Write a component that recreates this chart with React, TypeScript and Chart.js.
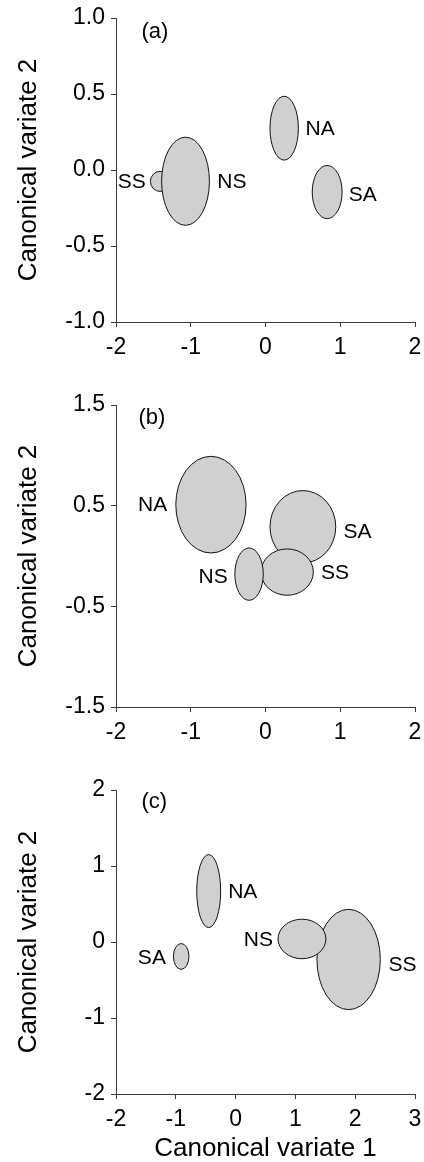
import React, { useEffect, useRef } from "react";
import { Chart, registerables } from "chart.js";

Chart.register(...registerables);

// ---------- Panel (a) ----------
const groupsA = ["SS", "NS", "NA", "SA"];
const cxA = [-1.41, -1.07, 0.25, 0.825];
const cyA = [-0.075, -0.074, 0.275, -0.145];
const rxA = [0.13, 0.32, 0.19, 0.2];
const ryA = [0.066, 0.29, 0.21, 0.175];
const labelXA = [-1.79, -0.45, 0.73, 1.3];
const labelYA = [-0.08, -0.08, 0.27, -0.167];
const xTicksA = [-2, -1, 0, 1, 2];
const xTickLabelsA = ["-2", "-1", "0", "1", "2"];
const yTicksA = [-1, -0.5, 0, 0.5, 1];
const yTickLabelsA = ["-1.0", "-0.5", "0.0", "0.5", "1.0"];

// ---------- Panel (b) ----------
const groupsB = ["NA", "SA", "SS", "NS"];
const cxB = [-0.73, 0.5, 0.29, -0.22];
const cyB = [0.51, 0.29, -0.16, -0.18];
const rxB = [0.47, 0.44, 0.35, 0.19];
const ryB = [0.48, 0.36, 0.23, 0.26];
const labelXB = [-1.51, 1.23, 0.93, -0.7];
const labelYB = [0.5, 0.24, -0.17, -0.21];
const xTicksB = [-2, -1, 0, 1, 2];
const xTickLabelsB = ["-2", "-1", "0", "1", "2"];
const yTicksB = [-1.5, -0.5, 0.5, 1.5];
const yTickLabelsB = ["-1.5", "-0.5", "0.5", "1.5"];

// ---------- Panel (c) ----------
const groupsC = ["NA", "SA", "SS", "NS"];
const cxC = [-0.45, -0.91, 1.89, 1.11];
const cyC = [0.67, -0.19, -0.23, 0.04];
const rxC = [0.2, 0.13, 0.53, 0.4];
const ryC = [0.48, 0.17, 0.66, 0.26];
const labelXC = [0.12, -1.4, 2.79, 0.38];
const labelYC = [0.66, -0.21, -0.31, 0.03];
const xTicksC = [-2, -1, 0, 1, 2, 3];
const xTickLabelsC = ["-2", "-1", "0", "1", "2", "3"];
const yTicksC = [-2, -1, 0, 1, 2];
const yTickLabelsC = ["-2", "-1", "0", "1", "2"];

const FONT = "'Liberation Sans', Arial, Helvetica, sans-serif";
const AXIS_COLOR = "#3a3a3a";
const FILL = "#d0d0d0";
const TEXT = "#000";

type PanelCfg = {
  top: number;
  height: number;
  plotTop: number;
  plotBottom: number;
  letter: string;
  letterX: number;
  letterY: number;
  groups: string[];
  cx: number[];
  cy: number[];
  rx: number[];
  ry: number[];
  lx: number[];
  ly: number[];
  xTicks: number[];
  xTickLabels: string[];
  yTicks: number[];
  yTickLabels: string[];
  xTitle?: string;
};

const ellipsePlugin = {
  id: "ellipses",
  afterDatasetsDraw(chart: any, _args: any, opts: any) {
    const cfg: PanelCfg = opts.cfg;
    const xs = chart.scales.x;
    const ys = chart.scales.y;
    const ctx = chart.ctx;
    ctx.save();
    for (let i = 0; i < cfg.cx.length; i++) {
      const px = xs.getPixelForValue(cfg.cx[i]);
      const py = ys.getPixelForValue(cfg.cy[i]);
      const rpx = Math.abs(xs.getPixelForValue(cfg.cx[i] + cfg.rx[i]) - px);
      const rpy = Math.abs(ys.getPixelForValue(cfg.cy[i] + cfg.ry[i]) - py);
      ctx.beginPath();
      ctx.ellipse(px, py, rpx, rpy, 0, 0, Math.PI * 2);
      ctx.fillStyle = FILL;
      ctx.fill();
      ctx.lineWidth = 1;
      ctx.strokeStyle = "#111";
      ctx.stroke();
    }
    ctx.fillStyle = TEXT;
    ctx.font = `21px ${FONT}`;
    ctx.textAlign = "center";
    ctx.textBaseline = "middle";
    for (let i = 0; i < cfg.groups.length; i++) {
      ctx.fillText(
        cfg.groups[i],
        xs.getPixelForValue(cfg.lx[i]),
        ys.getPixelForValue(cfg.ly[i])
      );
    }
    ctx.font = `22px ${FONT}`;
    ctx.fillText(
      cfg.letter,
      xs.getPixelForValue(cfg.letterX),
      ys.getPixelForValue(cfg.letterY)
    );
    ctx.restore();
  },
};

function Panel({ cfg }: { cfg: PanelCfg }) {
  const ref = useRef<HTMLCanvasElement | null>(null);
  useEffect(() => {
    if (!ref.current) return;
    const xMin = cfg.xTicks[0];
    const xMax = cfg.xTicks[cfg.xTicks.length - 1];
    const yMin = cfg.yTicks[0];
    const yMax = cfg.yTicks[cfg.yTicks.length - 1];
    const xAxisH = cfg.height - cfg.plotBottom;
    const chart = new Chart(ref.current, {
      type: "scatter",
      data: {
        datasets: [
          {
            data: cfg.cx.map((x, i) => ({ x, y: cfg.cy[i] })),
            pointRadius: 0,
            showLine: false,
          },
        ],
      },
      options: {
        animation: false,
        responsive: false,
        events: [],
        layout: { padding: { left: 0, right: 9, top: cfg.plotTop, bottom: 0 } },
        plugins: {
          legend: { display: false },
          tooltip: { enabled: false },
          ellipses: { cfg },
        } as any,
        scales: {
          x: {
            type: "linear",
            min: xMin,
            max: xMax,
            afterBuildTicks: (s: any) => {
              s.ticks = cfg.xTicks.map((v) => ({ value: v }));
            },
            afterFit: (s: any) => {
              s.height = xAxisH;
              s.paddingLeft = 0;
              s.paddingRight = 0;
            },
            grid: {
              display: true,
              drawOnChartArea: false,
              drawTicks: true,
              tickLength: 5,
              color: AXIS_COLOR,
              lineWidth: 1,
            },
            border: { display: true, color: AXIS_COLOR, width: 1 },
            ticks: {
              autoSkip: false,
              maxRotation: 0,
              padding: 9,
              color: TEXT,
              font: { family: FONT, size: 23, lineHeight: 1 },
              callback: (v: any) => {
                const i = cfg.xTicks.indexOf(Number(v));
                return i >= 0 ? cfg.xTickLabels[i] : "";
              },
            },
            title: {
              display: !!cfg.xTitle,
              text: cfg.xTitle || "",
              color: TEXT,
              font: { family: FONT, size: 26, lineHeight: 1 },
              padding: { top: 0, bottom: 0 },
            },
          },
          y: {
            type: "linear",
            min: yMin,
            max: yMax,
            afterBuildTicks: (s: any) => {
              s.ticks = cfg.yTicks.map((v) => ({ value: v }));
            },
            afterFit: (s: any) => {
              s.width = 116;
              s.paddingTop = 0;
              s.paddingBottom = 0;
            },
            grid: {
              display: true,
              drawOnChartArea: false,
              drawTicks: true,
              tickLength: 5,
              color: AXIS_COLOR,
              lineWidth: 1,
            },
            border: { display: true, color: AXIS_COLOR, width: 1 },
            ticks: {
              autoSkip: false,
              padding: 6,
              color: TEXT,
              font: { family: FONT, size: 23, lineHeight: 1 },
              callback: (v: any) => {
                const i = cfg.yTicks.indexOf(Number(v));
                return i >= 0 ? cfg.yTickLabels[i] : "";
              },
            },
            title: {
              display: true,
              text: "Canonical variate 2",
              color: TEXT,
              font: { family: FONT, size: 26, lineHeight: 1 },
              padding: { top: 16, bottom: 0 },
            },
          },
        },
      },
      plugins: [ellipsePlugin],
    } as any);
    return () => chart.destroy();
  }, [cfg]);
  return (
    <canvas
      ref={ref}
      width={424}
      height={cfg.height}
      style={{
        position: "absolute",
        left: 0,
        top: cfg.top,
        width: 424,
        height: cfg.height,
      }}
    />
  );
}

const panelA: PanelCfg = {
  top: 0,
  height: 380,
  plotTop: 18,
  plotBottom: 322,
  letter: "(a)",
  letterX: -1.48,
  letterY: 0.91,
  groups: groupsA,
  cx: cxA,
  cy: cyA,
  rx: rxA,
  ry: ryA,
  lx: labelXA,
  ly: labelYA,
  xTicks: xTicksA,
  xTickLabels: xTickLabelsA,
  yTicks: yTicksA,
  yTickLabels: yTickLabelsA,
};

const panelB: PanelCfg = {
  top: 380,
  height: 380,
  plotTop: 25,
  plotBottom: 327,
  letter: "(b)",
  letterX: -1.52,
  letterY: 1.37,
  groups: groupsB,
  cx: cxB,
  cy: cyB,
  rx: rxB,
  ry: ryB,
  lx: labelXB,
  ly: labelYB,
  xTicks: xTicksB,
  xTickLabels: xTickLabelsB,
  yTicks: yTicksB,
  yTickLabels: yTickLabelsB,
};

const panelC: PanelCfg = {
  top: 760,
  height: 402,
  plotTop: 30,
  plotBottom: 334,
  letter: "(c)",
  letterX: -1.36,
  letterY: 1.84,
  groups: groupsC,
  cx: cxC,
  cy: cyC,
  rx: rxC,
  ry: ryC,
  lx: labelXC,
  ly: labelYC,
  xTicks: xTicksC,
  xTickLabels: xTickLabelsC,
  yTicks: yTicksC,
  yTickLabels: yTickLabelsC,
  xTitle: "Canonical variate 1",
};

export default function App() {
  return (
    <div
      style={{
        position: "absolute",
        left: 0,
        top: 0,
        width: 424,
        height: 1162,
        background: "#fff",
        overflow: "hidden",
      }}
    >
      <Panel cfg={panelA} />
      <Panel cfg={panelB} />
      <Panel cfg={panelC} />
    </div>
  );
}
